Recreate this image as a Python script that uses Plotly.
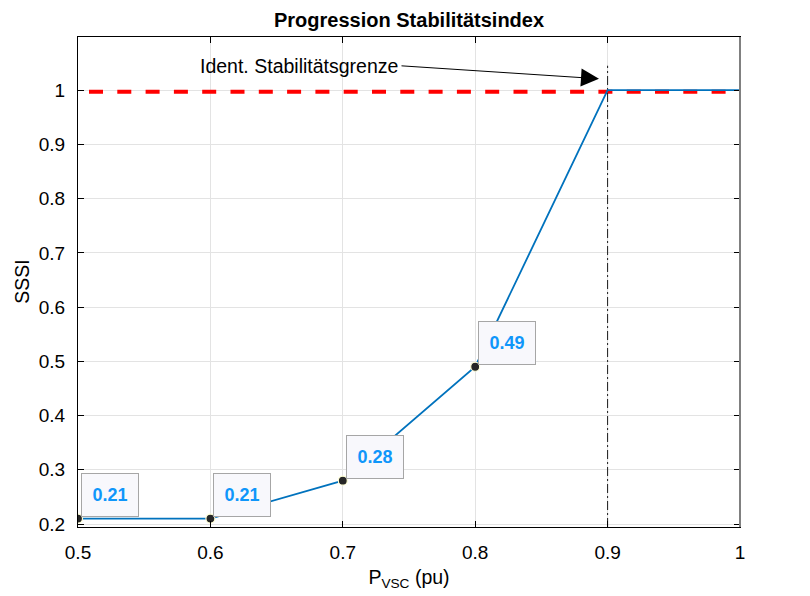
import plotly.graph_objects as go

# Operating points and measured stability index
p_vsc = [0.5, 0.6, 0.7, 0.8, 0.9, 1.0]
sssi = [0.21, 0.21, 0.28, 0.49, 1.0, 1.0]

# Points that carry a data tip
tip_x = [0.5, 0.6, 0.7, 0.8]
tip_y = [0.21, 0.21, 0.28, 0.49]
tip_text = ["0.21", "0.21", "0.28", "0.49"]

# Identified stability limit
limit_x = [0.5, 1.0]
limit_y = [0.997, 0.997]
limit_p = 0.9
limit_top = 1.045

x_ticks = [0.5, 0.6, 0.7, 0.8, 0.9, 1.0]
x_ticktext = ["0.5", "0.6", "0.7", "0.8", "0.9", "1"]
y_ticks = [0.2, 0.3, 0.4, 0.5, 0.6, 0.7, 0.8, 0.9, 1.0]
y_ticktext = ["0.2", "0.3", "0.4", "0.5", "0.6", "0.7", "0.8", "0.9", "1"]

x_range = [0.5, 1.0]
y_range = [0.1945, 1.098]

FONT = "Liberation Sans, Arial, sans-serif"
TXT = 19.5

fig = go.Figure()

# red dashed threshold (pattern begins with a short gap)
fig.add_trace(go.Scatter(
    x=limit_x, y=limit_y, mode="lines",
    line=dict(color="#FF0000", width=4, dash="0px,11px,14px,3.3px"),
    hoverinfo="skip", showlegend=False,
))

# vertical dash-dot marker of the limit
fig.add_trace(go.Scatter(
    x=[limit_p, limit_p], y=[y_range[0], limit_top], mode="lines",
    line=dict(color="#1a1a1a", width=1, dash="9px,3px,2px,3px"),
    hoverinfo="skip", showlegend=False,
))

# SSSI curve
fig.add_trace(go.Scatter(
    x=p_vsc, y=sssi, mode="lines",
    line=dict(color="#0072BD", width=1.8),
    showlegend=False,
))

# data tip markers
fig.add_trace(go.Scatter(
    x=tip_x, y=tip_y, mode="markers",
    marker=dict(size=9, color="#262626", line=dict(color="#FFFFD6", width=1.2)),
    showlegend=False,
))

# data tip boxes
for xv, yv, t in zip(tip_x, tip_y, tip_text):
    fig.add_annotation(
        x=xv, y=yv, xref="x", yref="y", text="<b>" + t + "</b>",
        showarrow=False, xanchor="left", yanchor="bottom",
        xshift=3, yshift=2, width=50, height=36, borderpad=3,
        bgcolor="#F8F8FC", bordercolor="#A6A6A6", borderwidth=1,
        font=dict(family=FONT, size=18, color="#0F96FA"),
        align="center", valign="middle",
    )

# limit label with arrow
label_x, label_y = 0.7432, 1.045
arrow_x, arrow_y = 0.8935, 1.021
fig.add_annotation(
    x=label_x, y=label_y, xref="x", yref="y", text="Ident. Stabilitätsgrenze",
    showarrow=False, xanchor="right", yanchor="middle",
    font=dict(family=FONT, size=TXT, color="#000000"),
)
fig.add_annotation(
    x=arrow_x, y=arrow_y, ax=label_x, ay=label_y,
    xref="x", yref="y", axref="x", ayref="y", text="",
    showarrow=True, arrowhead=2, arrowsize=3.6, arrowwidth=1,
    arrowcolor="#000000", standoff=0, startstandoff=0,
)

# y-axis title
fig.add_annotation(
    x=-0.085, y=0.5, xref="paper", yref="paper", text="SSSI", textangle=-90,
    showarrow=False, xanchor="center", yanchor="middle",
    font=dict(family=FONT, size=TXT, color="#000000"),
)

# right-hand frame edge
fig.add_shape(type="line", xref="paper", yref="paper", x0=1, x1=1, y0=0, y1=1,
              line=dict(color="#808080", width=2), layer="above")

axis_common = dict(
    showgrid=True, gridcolor="#E3E3E3", gridwidth=1,
    showline=True, linecolor="#000000", linewidth=1, mirror="allticks",
    ticks="inside", ticklen=6, tickcolor="#000000", tickwidth=1,
    tickfont=dict(family=FONT, size=19, color="#000000"),
    zeroline=False,
)

fig.update_xaxes(
    range=x_range, tickvals=x_ticks, ticktext=x_ticktext,
    ticklabelstandoff=8,
    title=dict(text="P<sub>VSC</sub> (pu)", font=dict(family=FONT, size=TXT, color="#000000"),
               standoff=8),
    **axis_common,
)
fig.update_yaxes(
    range=y_range, tickvals=y_ticks, ticktext=y_ticktext,
    ticklabelstandoff=8,
    **axis_common,
)

fig.update_layout(
    width=810, height=596,
    margin=dict(l=78, r=70, t=37, b=69),
    paper_bgcolor="#FFFFFF", plot_bgcolor="#FFFFFF",
    title=dict(text="<b>Progression Stabilitätsindex</b>", x=0.505, xanchor="center",
               y=1 - 20 / 596, yanchor="middle", yref="container",
               font=dict(family=FONT, size=20, color="#000000")),
    showlegend=False,
)

fig.write_html("out.html")
